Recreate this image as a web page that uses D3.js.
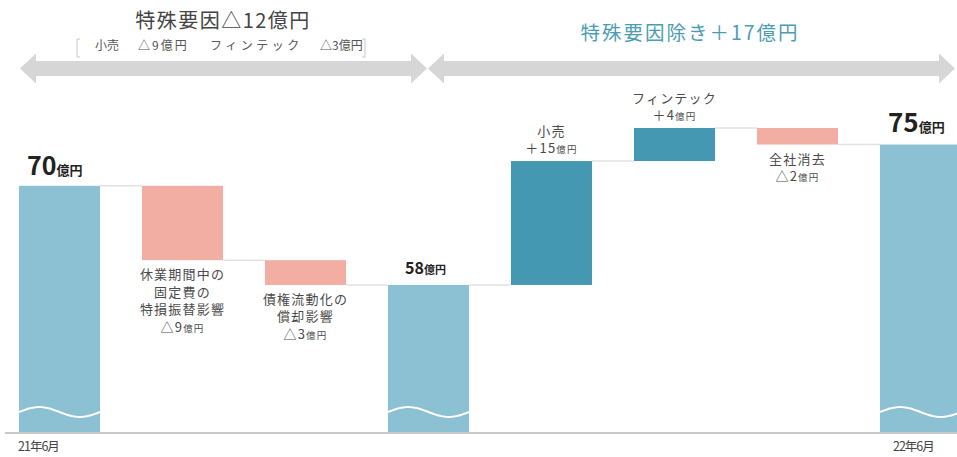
<!DOCTYPE html>
<html>
<head>
<meta charset="utf-8">
<script src="https://cdn.jsdelivr.net/npm/d3@7"></script>
<style>
  body { margin: 0; background: #fff; }
  svg { display: block; font-family: "Noto Sans CJK JP", "Noto Sans", sans-serif; }
</style>
</head>
<body>
<div id="chart"></div>
<script>
// data
var steps = ["21年6月", "休業期間中の固定費の特損振替影響", "債権流動化の償却影響", "中間", "小売", "フィンテック", "全社消去", "22年6月"];
var kinds = ["total", "delta", "delta", "total", "delta", "delta", "delta", "total"];
var values = [70, -9, -3, 58, 15, 4, -2, 75];
var barLabels = [
    [],
    ["休業期間中の", "固定費の", "特損振替影響", "△9億円"],
    ["債権流動化の", "償却影響", "△3億円"],
    [],
    ["小売", "＋15億円"],
    ["フィンテック", "＋4億円"],
    ["全社消去", "△2億円"],
    []
];
var dateLabels = ["21年6月", "", "", "", "", "", "", "22年6月"];
var leftTitle = "特殊要因△12億円";
var leftSub = [["小売", "△9億円"], ["フィンテック", "△3億円"]];
var rightTitle = "特殊要因除き＋17億円";

var width = 957, height = 457;
var baseY = 432;

var svg = d3.select("#chart").append("svg")
    .attr("width", width)
    .attr("height", height);

// waterfall start/end
var rows = [];
var running = 0;
values.forEach(function (v, i) {
    if (kinds[i] === "total") {
        rows.push({ i: i, kind: "total", v0: null, v1: v, value: v });
        running = v;
    } else {
        rows.push({ i: i, kind: v < 0 ? "neg" : "pos", v0: running, v1: running + v, value: v });
        running += v;
    }
});

var axisBase = 40.2; // value shown at the (broken) baseline
var y = d3.scaleLinear().domain([axisBase, 77]).range([baseY, 128]);
var x = d3.scaleBand().domain(d3.range(steps.length)).range([19, 961]).paddingInner(0.341).paddingOuter(0);

var colors = { total: "#8bc1d2", pos: "#4598b1", neg: "#f3aea3" };

// connectors
for (var k = 0; k < rows.length - 1; k++) {
    var lvl = rows[k].v1;
    svg.append("line")
        .attr("x1", x(k) + x.bandwidth())
        .attr("x2", x(k + 1))
        .attr("y1", y(lvl))
        .attr("y2", y(lvl))
        .attr("stroke", "#e2e2e2")
        .attr("stroke-width", 1.5);
}

// bars
svg.selectAll("rect.bar")
    .data(rows)
    .join("rect")
    .attr("class", "bar")
    .attr("x", d => x(d.i))
    .attr("width", x.bandwidth())
    .attr("y", d => d.kind === "total" ? y(d.v1) : y(Math.max(d.v0, d.v1)))
    .attr("height", d => d.kind === "total" ? baseY - y(d.v1) : Math.abs(y(d.v0) - y(d.v1)))
    .attr("fill", d => colors[d.kind]);

// break marks (wave) on total bars
var wave = d3.line().curve(d3.curveBasis);
rows.filter(d => d.kind === "total").forEach(function (d) {
    var x0 = x(d.i), w = x.bandwidth();
    var pts = d3.range(0, 33).map(function (j) {
        var t = j / 32;
        return [x0 + t * w, 412 - 5 * Math.sin(t * Math.PI * 2)];
    });
    svg.append("path")
        .attr("d", wave(pts))
        .attr("fill", "none")
        .attr("stroke", "#fff")
        .attr("stroke-width", 2);
});

// baseline
svg.append("line")
    .attr("x1", 5).attr("x2", width)
    .attr("y1", baseY + 1).attr("y2", baseY + 1)
    .attr("stroke", "#c9c9c9")
    .attr("stroke-width", 2);

// helper: text with small 億円
function richText(g, str, size, smallSize, weight) {
    var t = g.append("text");
    var parts = str.split("億円");
    t.append("tspan").text(parts[0]).attr("font-size", size);
    if (parts.length > 1) t.append("tspan").text("億円").attr("font-size", smallSize);
    t.attr("font-weight", weight || "normal");
    return t;
}

// total labels
var totalStyle = { 0: [25, 13, 27, 175], 3: [16, 11, 405, 274], 7: [26, 13, 888, 132] };
rows.filter(d => d.kind === "total").forEach(function (d) {
    var s = totalStyle[d.i];
    richText(svg, d.value + "億円", s[0], s[1], "bold")
        .attr("x", s[2]).attr("y", s[3])
        .attr("fill", "#222");
});

// delta labels
rows.forEach(function (d) {
    var lines = barLabels[d.i];
    if (!lines.length) return;
    var cx = x(d.i) + x.bandwidth() / 2;
    var lh = 17.5;
    lines.forEach(function (line, j) {
        var yy;
        if (d.kind === "pos") {
            yy = y(d.v1) - 8 - (lines.length - 1 - j) * lh;
        } else {
            yy = y(d.v1) + 19 + j * lh;
        }
        richText(svg, line, 13, 9.5)
            .attr("x", cx).attr("y", yy)
            .attr("text-anchor", "middle")
            .attr("letter-spacing", 1.2)
            .attr("fill", "#4a4a4a");
    });
});

// date labels
dateLabels.forEach(function (lab, i) {
    if (!lab) return;
    svg.append("text")
        .attr("x", i === 0 ? x(i) - 1 : x(i) + 13)
        .attr("y", 451)
        .attr("font-size", 12.5)
        .attr("fill", "#444")
        .attr("letter-spacing", -1)
        .text(lab);
});

// arrows
function dblArrow(x1, x2, cy) {
    var hw = 15, sw = 7.5, hl = 16;
    var p = [[x1, cy], [x1 + hl, cy - hw], [x1 + hl, cy - sw], [x2 - hl, cy - sw], [x2 - hl, cy - hw],
             [x2, cy], [x2 - hl, cy + hw], [x2 - hl, cy + sw], [x1 + hl, cy + sw], [x1 + hl, cy + hw]];
    svg.append("path")
        .attr("d", "M" + p.join("L") + "Z")
        .attr("fill", "#d6d6d6");
}
dblArrow(20, 427, 68.5);
dblArrow(428, 955, 68.5);

// left header
svg.append("text")
    .attr("x", 223).attr("y", 28)
    .attr("text-anchor", "middle")
    .attr("font-size", 20)
    .attr("letter-spacing", 1.5)
    .attr("fill", "#444")
    .text(leftTitle);

var subG = svg.append("g").attr("font-size", 12).attr("fill", "#555");
subG.append("text").attr("x", 95).attr("y", 50).attr("letter-spacing", 0).text(leftSub[0][0]);
subG.append("text").attr("x", 138).attr("y", 50).attr("letter-spacing", 2).text(leftSub[0][1]);
subG.append("text").attr("x", 210).attr("y", 50).attr("letter-spacing", 3.5).text(leftSub[1][0]);
subG.append("text").attr("x", 320).attr("y", 50).attr("letter-spacing", 0).text(leftSub[1][1]);
svg.append("path")
    .attr("d", "M80,39 L77,39 L77,57 L80,57 M362,39 L365,39 L365,57 L362,57")
    .attr("fill", "none")
    .attr("stroke", "#c8c8c8")
    .attr("stroke-width", 1);

// right header
svg.append("text")
    .attr("x", 690).attr("y", 40)
    .attr("text-anchor", "middle")
    .attr("font-size", 19.5)
    .attr("letter-spacing", 2)
    .attr("fill", "#4c9db3")
    .text(rightTitle);
</script>
</body>
</html>
